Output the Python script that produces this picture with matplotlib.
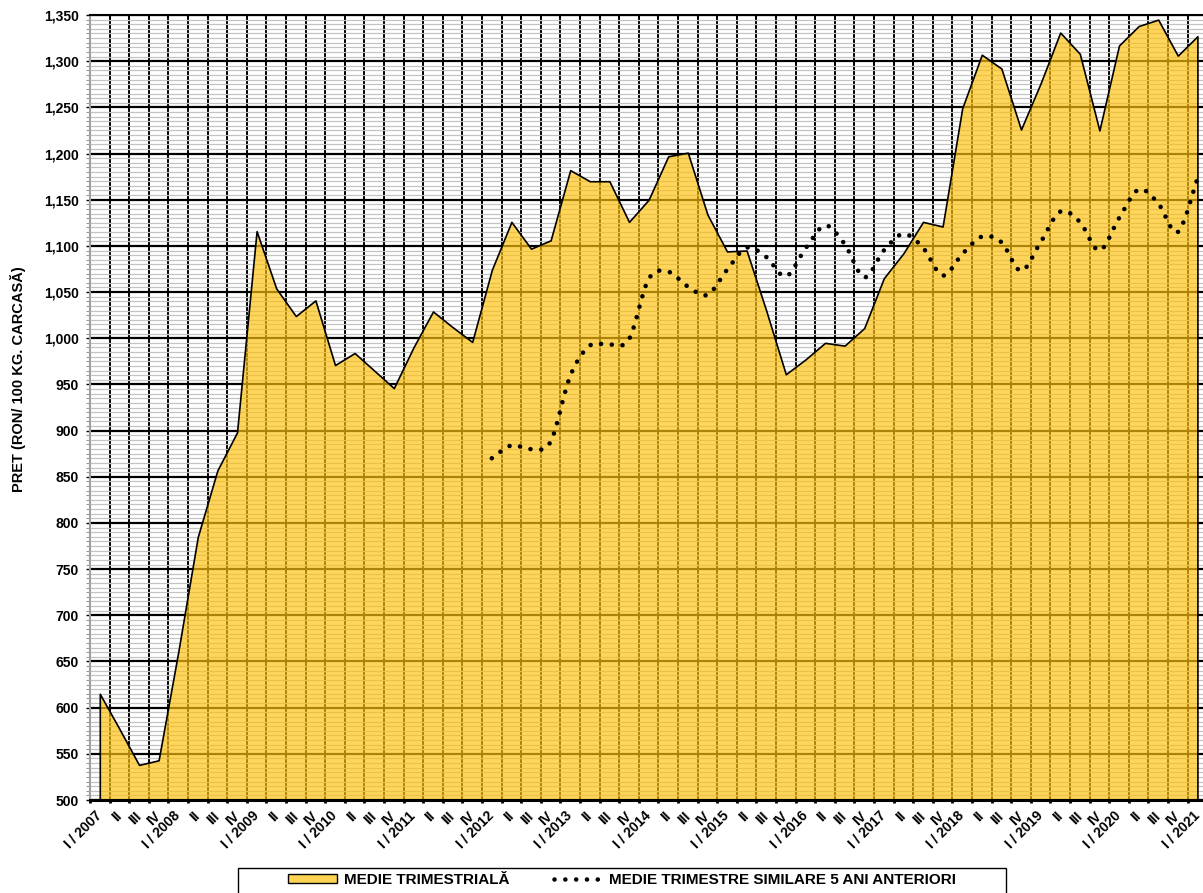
import numpy as np
import matplotlib.pyplot as plt
from matplotlib.path import Path
from matplotlib.patches import PathPatch, Rectangle, Patch
from matplotlib.lines import Line2D
from matplotlib.ticker import FixedLocator, MultipleLocator, FuncFormatter

plt.rcParams['font.family'] = ['Liberation Sans', 'DejaVu Sans']
plt.rcParams['font.weight'] = 'bold'

# quarters I/2007 .. I/2021
quarters = ['I', 'II', 'III', 'IV']
years = list(range(2007, 2022))
labels = [f'{q} / {y}' if q == 'I' else q for y in years for q in quarters][:57]

# quarterly average price (RON / 100 kg carcass)
price = [615, 577, 538, 543, 660, 785, 857, 898,
         1116, 1054, 1024, 1041, 971, 984, 965, 946, 990, 1029, 1012, 996,
         1074, 1126, 1097, 1106, 1182, 1170, 1170, 1126, 1150, 1197, 1201, 1134,
         1094, 1095, 1030, 961, 977, 995, 992, 1011, 1065, 1092, 1126, 1121,
         1249, 1307, 1292, 1226, 1276, 1331, 1308, 1225, 1317, 1338, 1345, 1306,
         1327]

# average of the same quarter over the previous 5 years (from I/2012)
avg_start = 20
avg5 = [870, 884, 880, 888, 959, 992, 993, 999, 1064, 1072, 1056, 1047,
        1074, 1098, 1088, 1067, 1097, 1122, 1102, 1066, 1095, 1113, 1098, 1068,
        1091, 1110, 1104, 1073, 1104, 1137, 1126, 1095, 1130, 1161, 1146, 1115,
        1173]

W, H = 1203, 893
FILL = (1.0, 0.76, 0.05, 0.68)
LEG_FILL = '#FFD452'
DOTS = (0, (0.01, 2.35))

fig = plt.figure(figsize=(W / 100, H / 100), dpi=100)
n = len(labels)
cat_w = 19.6
ax = fig.add_axes([90 / W, 93 / H, n * cat_w / W, 785 / H])

x = np.arange(n)
ax.fill_between(x, 500, price, facecolor=FILL, edgecolor='black', lw=1.2, zorder=2)

# smoothed dotted line (Catmull-Rom as cubic Bezier segments)
xs = np.arange(avg_start, avg_start + len(avg5))
pts = np.column_stack([xs, avg5]).astype(float)
ext = np.vstack([pts[0], pts, pts[-1]])
verts = [pts[0]]
codes = [Path.MOVETO]
for i in range(len(pts) - 1):
    p0, p1, p2, p3 = ext[i], ext[i + 1], ext[i + 2], ext[i + 3]
    verts += [p1 + (p2 - p0) / 6, p2 - (p3 - p1) / 6, p2]
    codes += [Path.CURVE4] * 3
ax.add_patch(PathPatch(Path(verts, codes), fill=False, edgecolor='black', lw=3.3,
                       linestyle=DOTS, capstyle='round', zorder=3))

ax.set_xlim(-0.5, n - 0.5)
ax.set_ylim(500, 1350)

ax.set_axisbelow(True)
ax.yaxis.set_major_locator(MultipleLocator(50))
ax.yaxis.set_minor_locator(MultipleLocator(5))
ax.yaxis.set_major_formatter(FuncFormatter(lambda v, p: f'{v:,.0f}'))
ax.xaxis.set_major_locator(FixedLocator(x))
ax.xaxis.set_minor_locator(FixedLocator(np.arange(n + 1) - 0.5))
ax.set_xticklabels(labels, rotation=45, ha='right', va='center',
                   rotation_mode='anchor', fontsize=10, fontweight='bold')

ax.grid(which='major', axis='y', color='black', lw=1.6)
ax.grid(which='minor', axis='y', color='#C4C4C4', lw=0.9)
ax.grid(which='minor', axis='x', color='black', lw=1.4)

ax.tick_params(axis='y', which='major', length=3, width=1, color='black',
               labelsize=10, pad=5)
ax.tick_params(axis='y', which='minor', length=3, width=0.8, color='#999999')
ax.tick_params(axis='x', which='major', length=0, pad=10)
ax.tick_params(axis='x', which='minor', length=2.5, width=2, color='black')

ax.spines['right'].set_visible(False)
ax.spines['left'].set_color('#A0A0A0')
ax.spines['left'].set_linewidth(1.5)
ax.spines['top'].set_color('black')
ax.spines['top'].set_linewidth(1.5)
ax.spines['bottom'].set_color('black')
ax.spines['bottom'].set_linewidth(2.2)
ax.spines['bottom'].set_zorder(4)

fig.text(18 / W, 1 - 379 / H, 'PRET (RON/ 100 KG. CARCASĂ)', rotation=90,
         ha='center', va='center', fontsize=10.5, fontweight='bold')

# legend
handles = [Patch(facecolor=LEG_FILL, edgecolor='black', lw=1),
           Line2D([], [], color='black', lw=3.3, ls=DOTS, dash_capstyle='round')]
fig.legend(handles, ['MEDIE TRIMESTRIALĂ', 'MEDIE TRIMESTRE SIMILARE 5 ANI ANTERIORI'],
           loc='upper left', bbox_to_anchor=(288 / W, 1 - 873 / H), ncol=2,
           frameon=False, fontsize=11, handlelength=3.2, handleheight=0.45,
           handletextpad=0.45, columnspacing=2.9, borderpad=0, borderaxespad=0)
fig.add_artist(Rectangle((238 / W, -0.05), (1006 - 238) / W, 0.05 + 25 / H,
                         transform=fig.transFigure, fill=False,
                         edgecolor='black', lw=1))

fig.savefig('out.png', dpi=100)
